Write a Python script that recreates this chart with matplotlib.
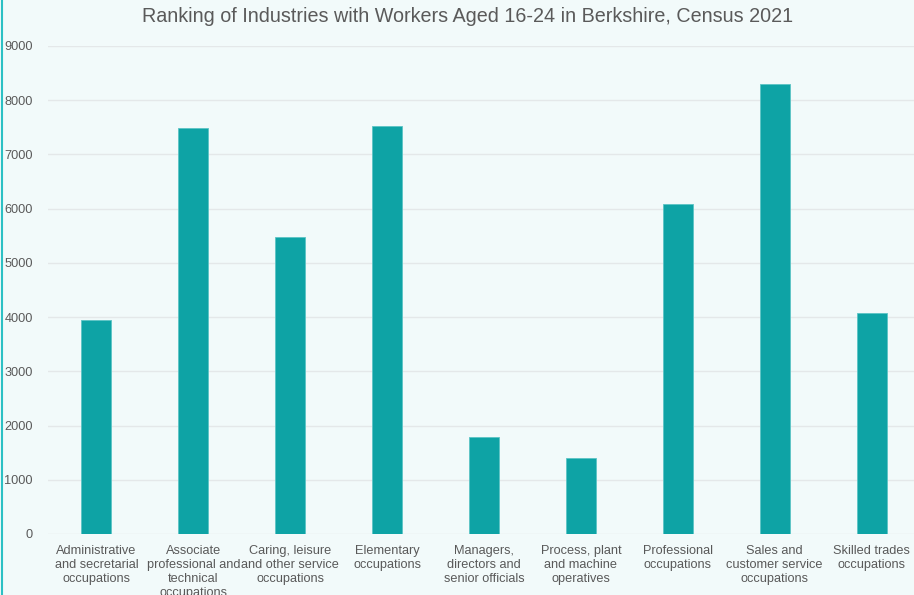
import matplotlib
matplotlib.use("Agg")
import matplotlib.pyplot as plt
from matplotlib.lines import Line2D

categories = [
    "Administrative\nand secretarial\noccupations",
    "Associate\nprofessional and\ntechnical\noccupations",
    "Caring, leisure\nand other service\noccupations",
    "Elementary\noccupations",
    "Managers,\ndirectors and\nsenior officials",
    "Process, plant\nand machine\noperatives",
    "Professional\noccupations",
    "Sales and\ncustomer service\noccupations",
    "Skilled trades\noccupations",
]
workers = [3950, 7480, 5480, 7520, 1790, 1400, 6080, 8290, 4080]
yticks = [0, 1000, 2000, 3000, 4000, 5000, 6000, 7000, 8000, 9000]

bg = "#f2fafa"
bar_col = "#0ea3a5"
txt = "#595959"

plt.rcParams["font.family"] = ["Liberation Sans", "DejaVu Sans"]

fig = plt.figure(figsize=(9.14, 5.95), dpi=100, facecolor=bg)
ax = fig.add_axes([48 / 914, 1 - 534 / 595, 872 / 914, 488 / 595])
ax.set_facecolor(bg)

x = list(range(len(categories)))
ax.bar(x, workers, width=0.31, color=bar_col, edgecolor="#5cc4c5", linewidth=0.6, zorder=3)

ax.set_xlim(-0.5, len(categories) - 0.5)
ax.set_ylim(0, 9000)
ax.set_yticks(yticks)
ax.set_yticklabels([str(v) for v in yticks])
ax.set_xticks(x)
ax.set_xticklabels(categories, fontsize=9.2, color=txt, linespacing=1.2, va="top")
ax.tick_params(axis="both", length=0, colors=txt)
ax.tick_params(axis="y", labelsize=9.2, pad=11)
ax.tick_params(axis="x", pad=8)
ax.grid(axis="y", color="#e4e8e9", linewidth=1, zorder=0)
for s in ax.spines.values():
    s.set_visible(False)

fig.text(468 / 914, 1 - 17 / 595, "Ranking of Industries with Workers Aged 16-24 in Berkshire, Census 2021",
         ha="center", va="center", fontsize=14.2, color="#5a5a5a")

fig.add_artist(Line2D([1.5 / 914, 1.5 / 914], [0, 1], color="#2cc0c4", linewidth=1.5,
                      transform=fig.transFigure))

fig.savefig("out.png", dpi=100, facecolor=bg)
